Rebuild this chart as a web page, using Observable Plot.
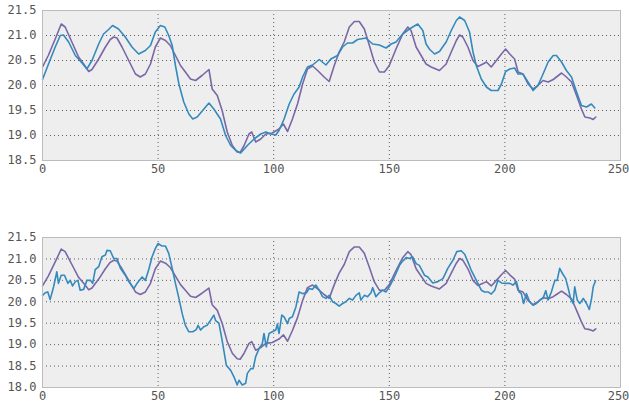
<!DOCTYPE html>
<html>
<head>
<meta charset="utf-8">
<script src="https://cdn.jsdelivr.net/npm/d3@7"></script>
<script src="https://cdn.jsdelivr.net/npm/@observablehq/plot@0.6"></script>
<style>
  html, body { margin: 0; padding: 0; background: #ffffff; }
  #chart { width: 629px; height: 404px; overflow: hidden; }
  #chart svg { display: block; }
</style>
</head>
<body>
<div id="chart"></div>
<script>
// ---- data ----
const xTicks = [0, 50, 100, 150, 200, 250];
const topYTicks = [18.5, 19.0, 19.5, 20.0, 20.5, 21.0, 21.5];
const bottomYTicks = [18.0, 18.5, 19.0, 19.5, 20.0, 20.5, 21.0, 21.5];

// purple (smooth) series, identical in both panels
const purpleX = [0,2.5,5.5,8.1,9.8,12.7,15.6,17.8,20,21.4,24.3,27.2,29.3,30.8,32.2,34.4,37.3,40.2,42.3,44.5,46.7,48.8,51,53.2,55.3,57.5,59.7,61.8,64,66.2,69,72,73.4,75.6,77.7,79.9,82.1,84.2,85.5,87.2,89.3,90.5,92.2,94.4,96.6,99.4,102.3,104.2,106,108.1,110.3,112.5,114.6,116.8,119,121.8,124,126.2,128.3,130.5,132.7,134.9,137,139.2,141.4,143.5,145.7,147.9,150,152.9,155.8,158,159.4,161.6,163.5,165.9,168.1,171.7,174.6,176.8,179,180.4,181.8,184,186.2,188.3,190.5,192,194.1,196.3,198.5,200.3,202.1,204.2,205.7,207.8,210,212.2,214.3,216.5,218.7,220.9,222.3,224.5,226.6,228.8,231,233.1,234.6,236.8,238.2,239.3];
const purpleY = [20.37,20.6,20.93,21.23,21.17,20.87,20.57,20.43,20.28,20.32,20.53,20.77,20.92,20.97,20.95,20.77,20.5,20.23,20.17,20.23,20.43,20.77,20.95,20.9,20.8,20.6,20.4,20.27,20.13,20.1,20.2,20.32,19.93,19.8,19.5,19.07,18.8,18.67,18.66,18.8,19.03,19.07,18.87,18.93,19.03,19.05,19.13,19.23,19.08,19.33,19.63,20.03,20.33,20.39,20.3,20.17,20.08,20.4,20.67,20.87,21.17,21.28,21.28,21.13,20.8,20.47,20.27,20.27,20.4,20.73,21.03,21.17,21.1,20.77,20.62,20.43,20.37,20.3,20.43,20.67,20.9,21.01,20.97,20.77,20.5,20.38,20.43,20.47,20.37,20.5,20.63,20.73,20.63,20.53,20.27,20.23,20.03,19.93,20.0,20.1,20.07,20.12,20.17,20.25,20.17,20.07,19.8,19.53,19.37,19.35,19.32,19.37];

// blue series, top panel (smoothed)
const topBlueX = [0,2.6,5.5,7.7,9.1,11.3,14.2,17.1,19.2,21.4,24.3,26.4,28.6,30.3,32.9,35.8,38.7,41.6,44.5,46.7,48.8,51,52.9,54.6,56.1,57.5,59,61.1,63.3,65,66.9,69.8,72,74.1,77,79.2,81.4,83.6,85.7,88.6,91.5,94.4,96.6,98.7,100.9,102.3,104.5,106.7,108.8,111,112.5,114.6,116.8,119.7,122.6,124.7,127.6,129.8,131.9,134.1,136.3,139.9,142.8,145.7,148.6,150.8,152.9,155.8,158.7,162.3,164.5,165.9,167.5,169.6,171.7,174.6,176.8,179,180.4,182.6,184.7,186.2,187.6,189.8,192,194.1,197,198.5,200.3,202.1,204.2,205.7,207.8,210,212.2,214.3,216.5,218.7,220.9,222.3,224.5,226.6,228.8,231,233.1,235.3,237.4,238.9];
const topBlueY = [20.12,20.43,20.77,21.0,21.01,20.87,20.6,20.45,20.33,20.5,20.83,21.03,21.12,21.2,21.13,20.97,20.77,20.63,20.7,20.8,21.07,21.2,21.17,21.0,20.8,20.4,20.03,19.67,19.43,19.33,19.37,19.53,19.65,19.53,19.33,19.0,18.8,18.7,18.65,18.8,18.93,19.03,19.07,19.03,19.01,19.1,19.33,19.63,19.83,19.97,20.17,20.37,20.41,20.52,20.41,20.53,20.6,20.77,20.85,20.85,20.92,20.95,20.83,20.81,20.75,20.83,20.87,21.03,21.13,21.23,21.1,20.83,20.72,20.63,20.68,20.87,21.1,21.3,21.37,21.3,21.07,20.67,20.4,20.13,19.97,19.9,19.9,20.03,20.28,20.33,20.35,20.23,20.23,20.07,19.9,20.0,20.23,20.47,20.6,20.6,20.47,20.3,20.17,19.87,19.6,19.57,19.63,19.55];

// blue series, bottom panel (noisy)
const bottomBlueX = [0,1.2,2.3,3.3,4.8,6.2,6.9,8.1,9.5,11,12,13,14.2,15.3,16.3,17.8,19.2,20.7,21.7,22.8,24.3,25.7,27.2,27.9,29.3,30.8,32.2,33.7,35.8,37.3,39.5,40.9,43.1,44.5,45.9,47.4,48.8,50,51.7,53.2,54.6,56.1,57.5,59,60.4,61.8,63.3,65,66.5,67.3,68.4,69.8,71.2,72.7,74.1,74.9,76.3,77.7,79.5,81.4,82.8,84.2,85,86.4,87.9,88.6,90.1,91.1,92.2,93.7,95.1,95.8,96.8,98,99.4,100.9,101.6,102.3,103.5,104.5,106,106.7,108.1,109.6,111,112.5,114.2,115.3,116.8,118.2,119.7,121.1,122.6,124,125.5,126.9,128.3,129.8,131.2,132.7,134.1,135.6,137,137.7,139.2,140.6,142.1,142.8,144.2,145.7,147.1,148.6,150,151.5,152.9,154.4,155.8,157.3,158.7,160.1,161.6,163,165.2,166.7,168.8,171,173.2,175.3,177.5,179.2,181.1,182.6,184,185.4,186.9,188.3,189.8,191.2,192.7,194.1,195.6,197,198.5,200.3,202.1,203.5,205,206.1,207.1,208.1,209.3,210.7,212.2,213.6,215.1,216.5,217.7,218.7,220.1,221.6,222.6,223.7,224.9,226.3,227.4,228.4,229.5,230.2,231.3,232.4,233.9,235.3,236.5,237.5,238.2,239.2];
const bottomBlueY = [20.15,20.21,20.23,20.05,20.35,20.7,20.43,20.62,20.62,20.43,20.5,20.37,20.47,20.5,20.27,20.29,20.5,20.5,20.43,20.75,20.82,21.05,21.09,21.2,21.19,21.01,21.01,20.78,20.62,20.47,20.31,20.43,20.58,20.5,20.74,21.05,21.24,21.36,21.3,21.3,21.13,20.78,20.43,20.08,19.73,19.45,19.3,19.3,19.35,19.45,19.34,19.42,19.45,19.57,19.69,19.56,19.5,19.1,18.52,18.4,18.25,18.06,18.17,18.06,18.1,18.33,18.44,18.44,18.72,18.91,19.03,19.26,18.95,19.26,19.3,19.34,19.48,19.26,19.69,19.65,19.49,19.61,19.65,19.88,20.23,20.19,20.21,20.31,20.29,20.39,20.27,20.12,20.08,20.15,20.0,19.96,19.9,19.96,20.0,20.08,20.04,20.15,20.21,20.04,20.15,20.12,20.21,20.33,20.12,20.21,20.27,20.23,20.35,20.5,20.66,20.85,20.95,21.03,21.01,21.05,20.89,20.85,20.62,20.58,20.44,20.47,20.54,20.78,20.97,21.17,21.19,21.11,20.93,20.74,20.58,20.43,20.27,20.23,20.23,20.18,20.27,20.5,20.44,20.43,20.43,20.39,20.47,20.23,20.19,19.96,20.19,20.0,19.92,19.96,20.04,20.08,20.26,20.04,20.23,20.5,20.5,20.78,20.66,20.54,20.31,20.08,19.96,20.35,20.04,19.96,20.08,19.96,19.82,20.08,20.35,20.49];

// ---- drawing ----
const PURPLE = "#7A68A6";
const BLUE = "#348ABD";
const toPts = (xs, ys) => xs.map((x, i) => ({x, y: ys[i]}));

function panel({blueX, blueY, yDomain, yTicks, height, marginTop, marginBottom}) {
  const xMax = xTicks[xTicks.length - 1];
  const innerX = xTicks.filter(t => t > xTicks[0] && t < xMax);
  const innerY = yTicks.filter(t => t > yDomain[0] && t < yDomain[1]);
  const axisStyle = {tickSize: 0, tickPadding: 4, tickFormat: d => String(d), label: null, fill: "#555", fontSize: 12};
  return Plot.plot({
    width: 629,
    height,
    marginLeft: 42,
    marginRight: 9,
    marginTop,
    marginBottom,
    style: {fontFamily: "'DejaVu Sans Mono', monospace", fontSize: "12px", color: "#555", background: "#ffffff"},
    x: {domain: [xTicks[0], xMax]},
    y: {domain: yDomain},
    marks: [
      Plot.frame({fill: "#eeeeee", stroke: "none"}),
      Plot.gridX(innerX, {stroke: "#222", strokeOpacity: 0.7, strokeDasharray: "1,3", strokeWidth: 1}),
      Plot.gridY(innerY, {stroke: "#222", strokeOpacity: 0.7, strokeDasharray: "1,3", strokeWidth: 1}),
      Plot.line(toPts(purpleX, purpleY), {x: "x", y: "y", stroke: PURPLE, strokeWidth: 1.6}),
      Plot.line(toPts(blueX, blueY), {x: "x", y: "y", stroke: BLUE, strokeWidth: 1.6}),
      Plot.frame({stroke: "#bcbcbc", strokeWidth: 1}),
      Plot.axisX(xTicks.slice(0, -1), axisStyle),
      Plot.axisX([xMax], {...axisStyle, dx: -2}),
      Plot.axisY(yTicks, {tickSize: 0, tickPadding: 6, tickFormat: d3.format(".1f"), label: null, fill: "#555", fontSize: 12})
    ]
  });
}

const chart = document.getElementById("chart");
chart.appendChild(panel({
  blueX: topBlueX, blueY: topBlueY,
  yDomain: [18.5, 21.5], yTicks: topYTicks,
  height: 180, marginTop: 10, marginBottom: 20
}));
chart.appendChild(panel({
  blueX: bottomBlueX, blueY: bottomBlueY,
  yDomain: [18.0, 21.5], yTicks: bottomYTicks,
  height: 224, marginTop: 57, marginBottom: 17
}));
</script>
</body>
</html>
